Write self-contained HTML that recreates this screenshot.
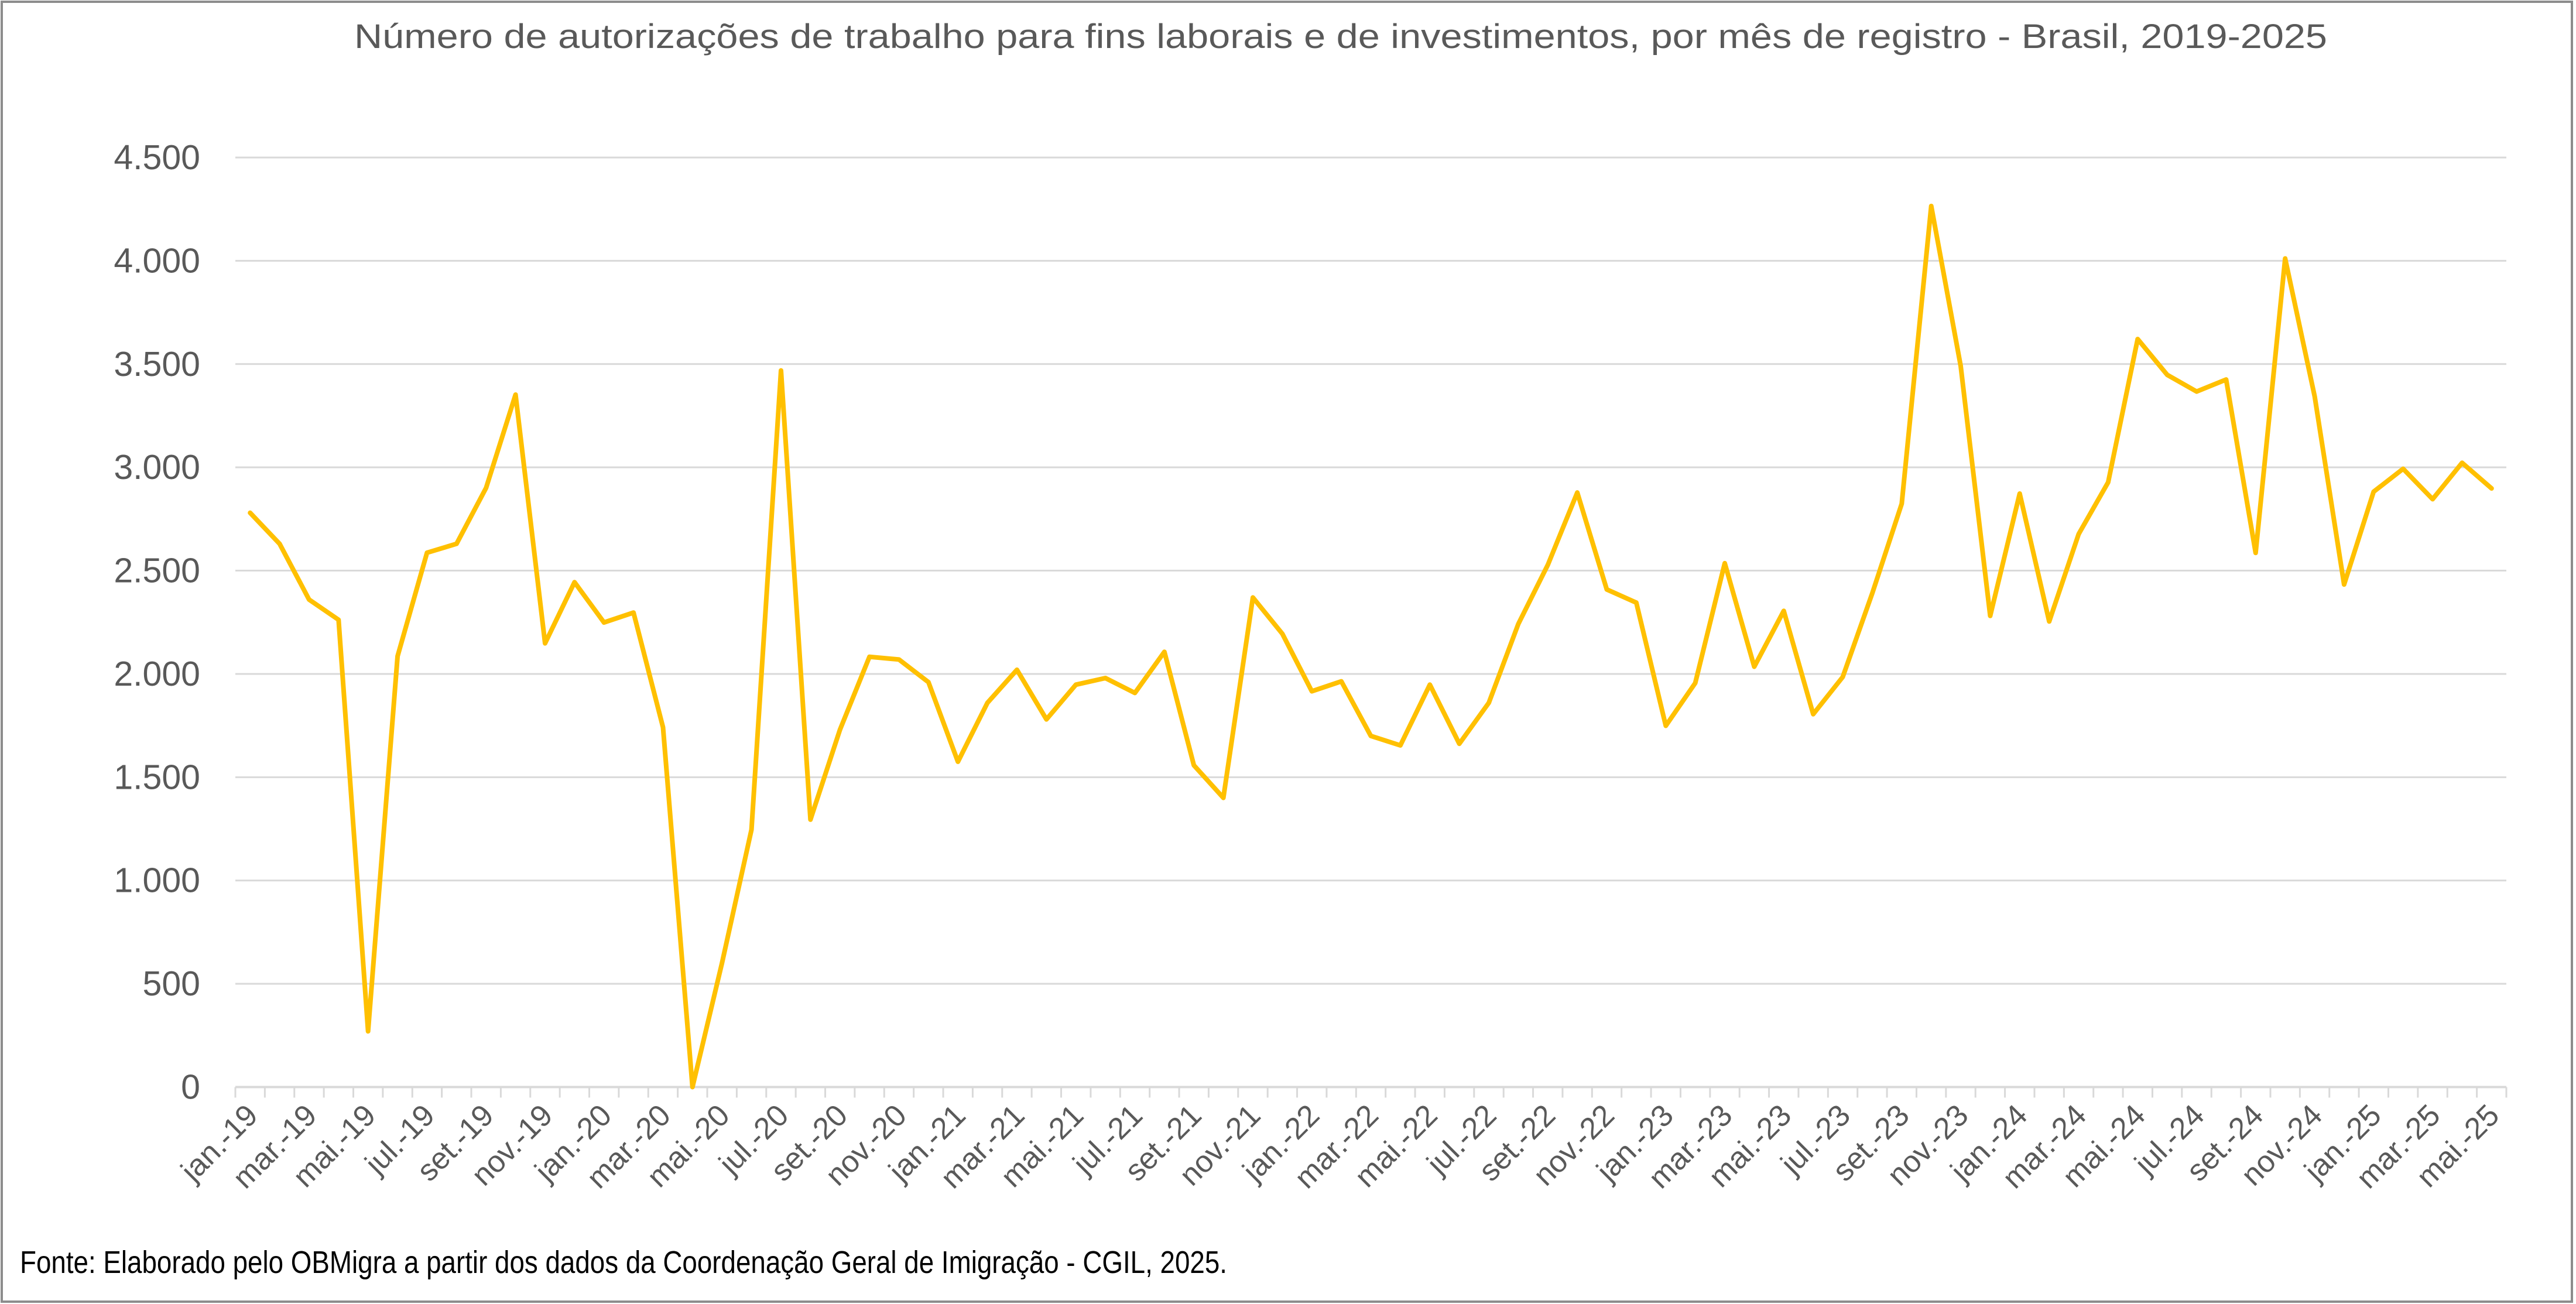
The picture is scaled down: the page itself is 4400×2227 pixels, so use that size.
<!DOCTYPE html>
<html><head><meta charset="utf-8"><style>
html,body{margin:0;padding:0;background:#fff;}
svg{display:block;font-family:"Liberation Sans",sans-serif;}
</style></head><body>
<svg id="chart" width="4400" height="2227" viewBox="0 0 4400 2227" xmlns="http://www.w3.org/2000/svg">
<rect x="3" y="3" width="4390" height="2220" fill="#fff" stroke="#8c8c8c" stroke-width="4"/>
<text x="2290" y="82" text-anchor="middle" font-size="58" fill="#595959" textLength="3370" lengthAdjust="spacingAndGlyphs">Número de autorizações de trabalho para fins laborais e de investimentos, por mês de registro - Brasil, 2019-2025</text>
<g id="grid"></g>
<g id="xaxis"></g>
<g id="series"></g>
<text x="34" y="2174" font-size="54" fill="#000" textLength="2062" lengthAdjust="spacingAndGlyphs">Fonte: Elaborado pelo OBMigra a partir dos dados da Coordenação Geral de Imigração - CGIL, 2025.</text>
</svg>
<script>
const monthNames = ["jan.","fev.","mar.","abr.","mai.","jun.","jul.","ago.","set.","out.","nov.","dez."];
const years = ["19","20","21","22","23","24","25"];
const yTicks = [0,500,1000,1500,2000,2500,3000,3500,4000,4500];
const yTickLabels = ["0","500","1.000","1.500","2.000","2.500","3.000","3.500","4.000","4.500"];
const values2019 = [2780,2630,2360,2262,270,2086,2587,2630,2900,3352,2148,2444];
const values2020 = [2249,2297,1741,0,600,1246,3469,1295,1730,2083,2070,1960];
const values2021 = [1575,1860,2020,1780,1948,1980,1908,2107,1558,1400,2370,2194];
const values2022 = [1916,1964,1700,1654,1948,1662,1860,2242,2528,2878,2409,2345];
const values2023 = [1749,1956,2536,2035,2305,1805,1985,2390,2824,4265,3491,2281];
const values2024 = [2873,2254,2677,2928,3621,3448,3367,3425,2586,4011,3344,2433];
const values2025 = [2882,2993,2846,3022,2898];

const values = [].concat(values2019,values2020,values2021,values2022,values2023,values2024,values2025);
const categories = [];
for (let i=0;i<values.length;i++) categories.push(monthNames[i%12]+"-"+years[Math.floor(i/12)]);

const NS="http://www.w3.org/2000/svg";
const L=402, R=4281, Y0=1856.5, YMAX=269, VMAX=4500;
const band=(R-L)/categories.length;
const xPos=i=>L+band*(i+0.5);
const yPos=v=>Y0-(v/VMAX)*(Y0-YMAX);
function mk(tag,attrs,parent){const e=document.createElementNS(NS,tag);for(const k in attrs)e.setAttribute(k,attrs[k]);parent.appendChild(e);return e;}

const grid=document.getElementById('grid');
yTicks.forEach((t,i)=>{
  if(i>0){const g=mk('line',{x1:L,x2:R,y1:yPos(t),y2:yPos(t),stroke:'#d9d9d9','stroke-width':3},grid);
  
  }
  const lb=mk('text',{x:342,y:yPos(t)+20,'text-anchor':'end','font-size':59,fill:'#595959'},grid);
  lb.textContent=yTickLabels[i];
  
  
});
const xa=document.getElementById('xaxis');
const ax=mk('line',{x1:L,x2:R,y1:Y0,y2:Y0,stroke:'#d9d9d9','stroke-width':4},xa);


for(let i=0;i<=categories.length;i++){
  const x=L+band*i;
  const tk=mk('line',{x1:x,x2:x,y1:Y0,y2:Y0+18,stroke:'#d9d9d9','stroke-width':3},xa);
  
  
}
categories.forEach((c,i)=>{
  if(i%2!==0)return;
  const x=xPos(i)+16, y=1908;
  const t=mk('text',{x:x,y:y,'text-anchor':'end','font-size':52,fill:'#595959',transform:`rotate(-45 ${x} ${y})`},xa);
  t.textContent=c;
  
  
});
const ser=document.getElementById('series');
const pts=values.map((v,i)=>xPos(i).toFixed(1)+','+yPos(v).toFixed(1)).join(' ');
const pl=mk('polyline',{points:pts,fill:'none',stroke:'#FFC000','stroke-width':8,'stroke-linejoin':'round','stroke-linecap':'round'},ser);


</script>
</body></html>
